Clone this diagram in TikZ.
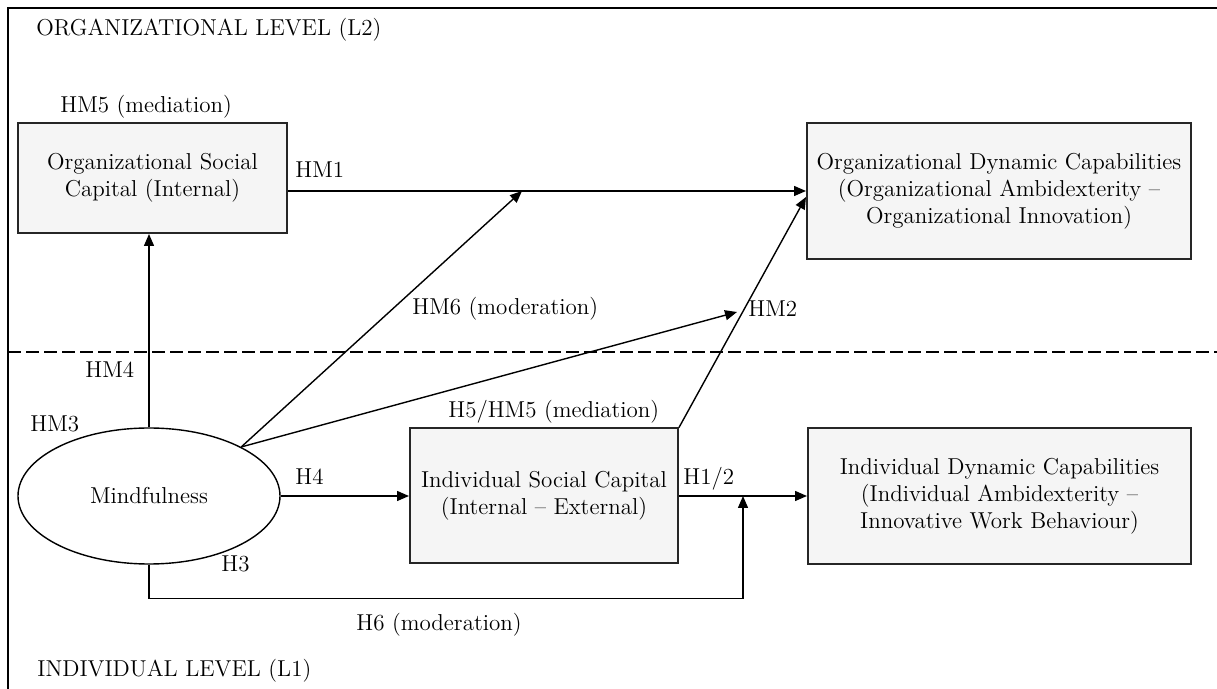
\documentclass[tikz,border=0pt]{standalone}
\usepackage{tikz}
\usetikzlibrary{arrows.meta}
\usetikzlibrary{shapes.geometric}
\usetikzlibrary{positioning}

\tikzset{
  box/.style={draw=black!85, line width=1pt, fill=black!4, rectangle, align=center, font=\fontsize{11.5}{13.5}\selectfont},
  lbl/.style={anchor=base west, inner sep=0pt, font=\fontsize{11.5}{13.5}\selectfont},
  arr/.style={-{Triangle[length=6pt,width=5pt]}, line width=0.7pt},
}

\begin{document}
\begin{tikzpicture}[x=0.5pt, y=-0.5pt]
    \useasboundingbox (0,0) rectangle (1217,689);
    \draw[line width=1.3pt] (8,689) -- (8,8) -- (1217,8);
    \draw[dash pattern=on 6.5pt off 2.5pt, line width=0.6pt] (8,352) -- (1217,352);

    \node[lbl] (orglevel) at (36,36) {ORGANIZATIONAL LEVEL (L2)};
    \node[lbl] (indlevel) at (37,677) {INDIVIDUAL LEVEL (L1)};

    \node[box, minimum width=134.5pt, minimum height=55pt] (osc) at (152.5,178) {Organizational Social\\Capital (Internal)};
    \node[box, minimum width=192pt, minimum height=68pt] (odc) at (999,191) {Organizational Dynamic Capabilities\\(Organizational Ambidexterity --\\Organizational Innovation)};
    \node[box, minimum width=134pt, minimum height=67.5pt] (isc) at (544,496) {Individual Social Capital\\(Internal -- External)};
    \node[box, minimum width=191.5pt, minimum height=68pt] (idc) at (999.5,496) {Individual Dynamic Capabilities\\(Individual Ambidexterity --\\Innovative Work Behaviour)};
    \node[draw, ellipse, line width=0.7pt, minimum width=131pt, minimum height=68pt, font=\fontsize{11.5}{13.5}\selectfont] (mind) at (149,496) {Mindfulness};

    \coordinate (m6) at (522,191);
    \coordinate (m2) at (737,312);
    \coordinate (h6) at (743,496);

    \draw[arr] (osc.east |- odc.west) -- (odc.west);
    \draw[arr] (mind.north) -- (mind.north |- osc.south);
    \draw[arr] (mind.28) -- (m6);
    \draw[arr] (mind.28) -- (m2);
    \draw[arr] (isc.north east) -- ([yshift=-3pt]odc.west);
    \draw[arr] (mind.east) -- (isc.west);
    \draw[arr] (isc.east) -- (idc.west);
    \draw[arr] (mind.south) -- ++(0,34) -| (h6);

    \node[lbl] (hm5) at (60,113) {HM5 (mediation)};
    \node[lbl] (hm1) at (295,178) {HM1};
    \node[lbl] (hm4) at (85,378) {HM4};
    \node[lbl] (hm6) at (412,315) {HM6 (moderation)};
    \node[lbl] (hm2) at (748,317) {HM2};
    \node[lbl] (hm3) at (30,432) {HM3};
    \node[lbl] (h5) at (448,418) {H5/HM5 (mediation)};
    \node[lbl] (h4) at (295,485) {H4};
    \node[lbl] (h12) at (683,485) {H1/2};
    \node[lbl] (h3) at (221,572) {H3};
    \node[lbl] (h6lbl) at (356,631) {H6 (moderation)};
\end{tikzpicture}
\end{document}
